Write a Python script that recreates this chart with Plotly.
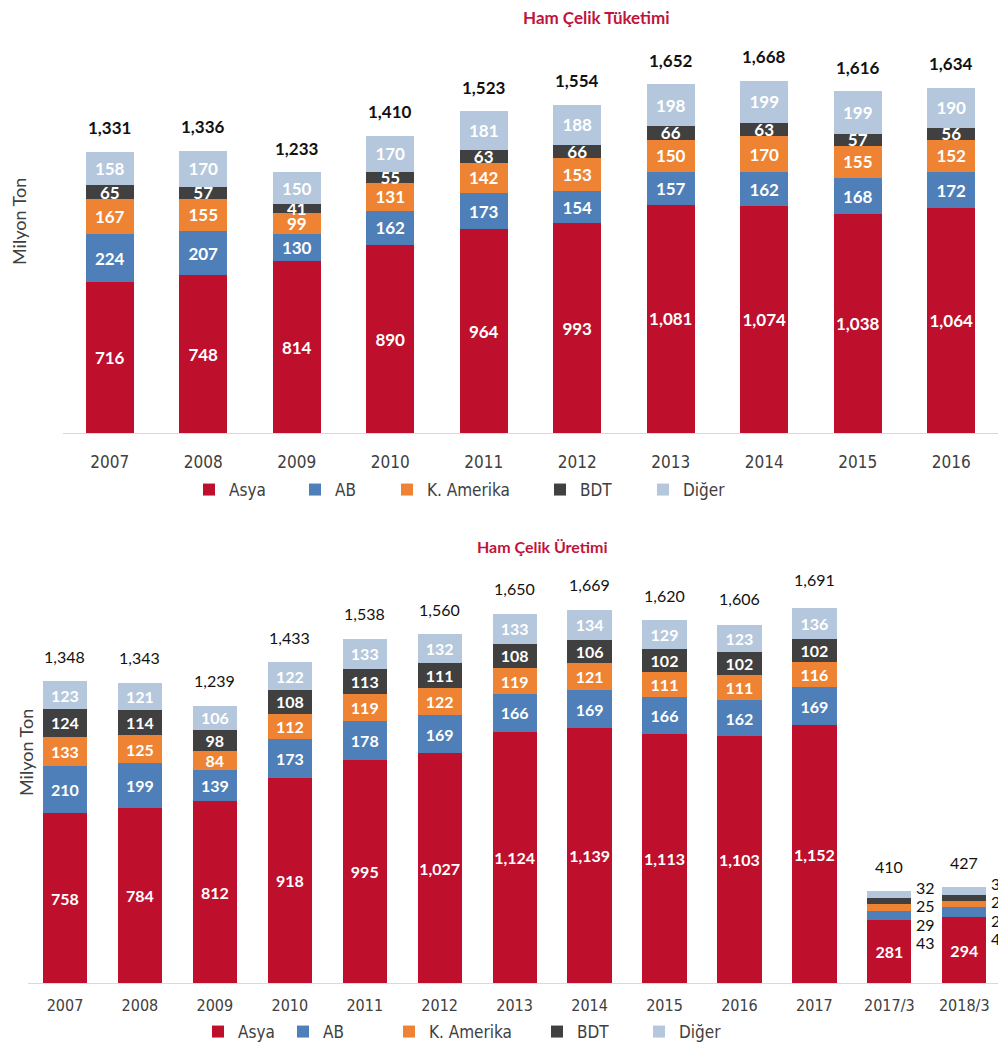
import plotly.graph_objects as go

# ---------------- data ----------------
series_names = ["Asya", "AB", "K. Amerika", "BDT", "Diğer"]
series_colors = ["#BE0F2D", "#4E7FB8", "#EE8433", "#404040", "#B5C7DC"]

years_top = ["2007", "2008", "2009", "2010", "2011", "2012", "2013", "2014", "2015", "2016"]
tuk_asya = [716, 748, 814, 890, 964, 993, 1081, 1074, 1038, 1064]
tuk_ab = [224, 207, 130, 162, 173, 154, 157, 162, 168, 172]
tuk_kam = [167, 155, 99, 131, 142, 153, 150, 170, 155, 152]
tuk_bdt = [65, 57, 41, 55, 63, 66, 66, 63, 57, 56]
tuk_diger = [158, 170, 150, 170, 181, 188, 198, 199, 199, 190]
tuk_total = [1331, 1336, 1233, 1410, 1523, 1554, 1652, 1668, 1616, 1634]

years_bot = ["2007", "2008", "2009", "2010", "2011", "2012", "2013", "2014", "2015",
             "2016", "2017", "2017/3", "2018/3"]
ur_asya = [758, 784, 812, 918, 995, 1027, 1124, 1139, 1113, 1103, 1152, 281, 294]
ur_ab = [210, 199, 139, 173, 178, 169, 166, 169, 166, 162, 169, 43, 44]
ur_kam = [133, 125, 84, 112, 119, 122, 119, 121, 111, 111, 116, 29, 29]
ur_bdt = [124, 114, 98, 108, 113, 111, 108, 106, 102, 102, 102, 25, 26]
ur_diger = [123, 121, 106, 122, 133, 132, 133, 134, 129, 123, 136, 32, 34]
ur_total = [1348, 1343, 1239, 1433, 1538, 1560, 1650, 1669, 1620, 1606, 1691, 410, 427]

title_top = "Ham Çelik Tüketimi"
title_bot = "Ham Çelik Üretimi"
y_title = "Milyon Ton"

# quarterly categories whose small segments are labelled beside the bar
side_label_cats = ["2017/3", "2018/3"]

# ---------------- figure ----------------
W, H = 998, 1052
LBL = "Lato"
NARROW = "Liberation Sans Narrow, Arial Narrow, DejaVu Sans Condensed, sans-serif"

fig = go.Figure()

top_series = [tuk_asya, tuk_ab, tuk_kam, tuk_bdt, tuk_diger]
bot_series = [ur_asya, ur_ab, ur_kam, ur_bdt, ur_diger]

for i, (name, col, vals) in enumerate(zip(series_names, series_colors, top_series)):
    fig.add_trace(go.Bar(
        x=years_top, y=vals, name=name, marker=dict(color=col, line=dict(width=0)),
        text=[f"{v:,}" for v in vals], texttemplate="%{text}",
        textposition="inside", insidetextanchor="middle", constraintext="none",
        textangle=0,
        textfont=dict(family=LBL, size=17, color="white", weight="bold"),
        width=0.51, xaxis="x", yaxis="y", legend="legend" if i == 0 else f"legend{i+1}",
        cliponaxis=False, hoverinfo="skip",
    ))

for i, (name, col, vals) in enumerate(zip(series_names, series_colors, bot_series)):
    txt = []
    for cat, v in zip(years_bot, vals):
        if cat in side_label_cats and i > 0:
            txt.append("")
        else:
            txt.append(f"{v:,}")
    fig.add_trace(go.Bar(
        x=years_bot, y=vals, name=name, marker=dict(color=col, line=dict(width=0)),
        text=txt, texttemplate="%{text}",
        textposition="inside", insidetextanchor="middle", constraintext="none",
        textangle=0,
        textfont=dict(family=LBL, size=16, color="white", weight="bold"),
        width=0.59, xaxis="x2", yaxis="y2", legend=f"legend{i+6}",
        cliponaxis=False, hoverinfo="skip",
    ))

annotations = []
# totals (category index used as x so year-like labels are not read as numbers)
for j, tot in enumerate(tuk_total):
    annotations.append(dict(x=j, y=tot, xref="x", yref="y", text=f"{tot:,}",
                            showarrow=False, yshift=24, yanchor="middle", xanchor="center",
                            font=dict(family=LBL, size=17, color="#111111", weight="bold")))
for j, tot in enumerate(ur_total):
    annotations.append(dict(x=j, y=tot, xref="x2", yref="y2", text=f"{tot:,}",
                            showarrow=False, yshift=25, yanchor="middle", xanchor="center",
                            font=dict(family=LBL, size=16, color="#111111")))
# side labels for quarterly bars (top segment first)
for j, cat in enumerate(years_bot):
    if cat not in side_label_cats:
        continue
    seg_vals = [ur_diger[j], ur_bdt[j], ur_kam[j], ur_ab[j]]
    for k, v in enumerate(seg_vals):
        annotations.append(dict(x=j, y=ur_total[j], xref="x2", yref="y2", text=f"{v:,}",
                                showarrow=False, xanchor="left", yanchor="middle",
                                xshift=25, yshift=4 - 18.5 * k,
                                font=dict(family=LBL, size=16, color="#111111")))

# titles
annotations.append(dict(x=596 / W, y=1 - 17 / H, xref="paper", yref="paper", text=title_top,
                        xanchor="center", yanchor="middle", showarrow=False,
                        font=dict(family=LBL, size=17, color="#C0143C", weight="bold")))
annotations.append(dict(x=542 / W, y=1 - 546 / H, xref="paper", yref="paper", text=title_bot,
                        xanchor="center", yanchor="middle", showarrow=False,
                        font=dict(family=LBL, size=16, color="#C0143C", weight="bold")))
annotations.append(dict(x=19 / W, y=1 - 222 / H, xref="paper", yref="paper", text=y_title,
                        xanchor="center", yanchor="middle", textangle=-90, showarrow=False,
                        font=dict(family=LBL, size=18, color="#404040")))
annotations.append(dict(x=26 / W, y=1 - 753 / H, xref="paper", yref="paper", text=y_title,
                        xanchor="center", yanchor="middle", textangle=-90, showarrow=False,
                        font=dict(family=LBL, size=18, color="#404040")))

# legends (one per item to follow the reference spacing)
legend_font = dict(family=NARROW, size=17, color="#404040")
top_text_x = [225, 331, 423, 576, 679]
bot_text_x = [234, 319, 425, 573, 675]
legends = {}
for i, tx in enumerate(top_text_x):
    key = "legend" if i == 0 else f"legend{i+1}"
    legends[key] = dict(x=(tx - 36) / W, y=1 - 490 / H, xanchor="left", yanchor="middle",
                        orientation="h", font=legend_font, bgcolor="rgba(0,0,0,0)",
                        itemclick=False, itemdoubleclick=False)
for i, tx in enumerate(bot_text_x):
    key = f"legend{i+6}"
    legends[key] = dict(x=(tx - 36) / W, y=1 - 1032 / H, xanchor="left", yanchor="middle",
                        orientation="h", font=legend_font, bgcolor="rgba(0,0,0,0)",
                        itemclick=False, itemdoubleclick=False)

fig.update_layout(
    width=W, height=H, barmode="stack",
    paper_bgcolor="white", plot_bgcolor="white",
    margin=dict(l=0, r=0, t=0, b=0),
    showlegend=True,
    annotations=annotations,
    xaxis=dict(domain=[63 / W, 1], range=[-0.5, 9.5], type="category",
               showline=True, linecolor="#D9D9D9", linewidth=1, showgrid=False,
               ticks="", ticklabelstandoff=14,
               tickfont=dict(family=NARROW, size=17, color="#404040"), fixedrange=True),
    yaxis=dict(domain=[(H - 433) / H, (H - 40) / H], range=[0, 393 / 0.2112],
               visible=False, fixedrange=True),
    xaxis2=dict(domain=[27.5 / W, 1], range=[-0.5, 12.45], type="category",
                showline=True, linecolor="#D9D9D9", linewidth=1, showgrid=False,
                ticks="", ticklabelstandoff=8, anchor="y2",
                tickfont=dict(family=NARROW, size=16, color="#404040"), fixedrange=True),
    yaxis2=dict(domain=[(H - 983) / H, (H - 570) / H], range=[0, 413 / 0.2237],
                visible=False, anchor="x2", fixedrange=True),
    **legends,
)

fig.write_html("out.html", config={"displayModeBar": False},
               post_script="document.body.style.margin='0';")
